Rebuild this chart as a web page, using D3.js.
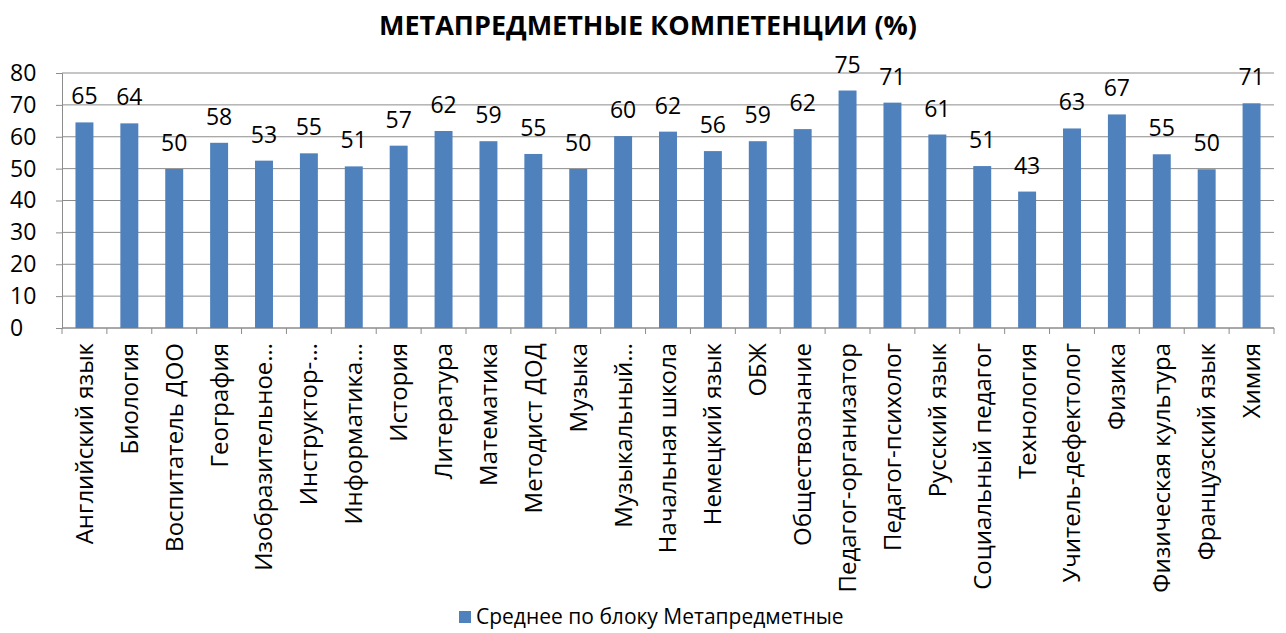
<!DOCTYPE html>
<html>
<head>
<meta charset="utf-8">
<script src="https://cdn.jsdelivr.net/npm/d3@7"></script>
<style>
  body { margin: 0; background: #fff; }
  text { font-family: "Open Sans", "Noto Sans", sans-serif; fill: #000; }
</style>
</head>
<body>
<div class="container"></div>
<script>
const categories = [
	"Английский язык", "Биология", "Воспитатель ДОО", "География", "Изобразительное…",
	"Инструктор-…", "Информатика…", "История", "Литература", "Математика",
	"Методист ДОД", "Музыка", "Музыкальный…", "Начальная школа", "Немецкий язык",
	"ОБЖ", "Обществознание", "Педагог-организатор", "Педагог-психолог", "Русский язык",
	"Социальный педагог", "Технология", "Учитель-дефектолог", "Физика", "Физическая культура",
	"Французский язык", "Химия"
];
const values = [
	64.5, 64.2, 49.9, 58.1, 52.5,
	54.8, 50.7, 57.2, 61.8, 58.6,
	54.6, 49.9, 60.2, 61.6, 55.5,
	58.6, 62.4, 74.5, 70.7, 60.7,
	50.8, 42.8, 62.6, 67.0, 54.5,
	49.8, 70.5
];
const yTicks = [0, 10, 20, 30, 40, 50, 60, 70, 80];
const title = "МЕТАПРЕДМЕТНЫЕ КОМПЕТЕНЦИИ (%)";
const seriesName = "Среднее по блоку Метапредметные";

const outerWidth = 1286, outerHeight = 633;
const margin = { top: 73, right: 12, bottom: 305, left: 62 };
const width = outerWidth - margin.left - margin.right;
const height = outerHeight - margin.top - margin.bottom;

const svg = d3.select(".container").append("svg")
	.attr("width", outerWidth)
	.attr("height", outerHeight);

svg.append("text")
	.attr("x", 648)
	.attr("y", 35)
	.attr("text-anchor", "middle")
	.style("font-size", "27px")
	.style("font-weight", "bold")
	.text(title);

const g = svg.append("g").attr("transform", `translate(${margin.left},${margin.top})`);

const x = d3.scaleBand().domain(categories).range([0, width]).paddingInner(0.6).paddingOuter(0.3);
const y = d3.scaleLinear().domain([0, 80]).range([height, 0]);

// gridlines
g.append("g")
	.selectAll("line")
	.data(yTicks).enter()
	.append("line")
		.attr("x1", 0)
		.attr("x2", width)
		.attr("y1", (d) => y(d))
		.attr("y2", (d) => y(d))
		.style("stroke", "#8c8c8c")
		.style("stroke-width", 1);

// y axis (labels left aligned like the original)
const yAxis = g.append("g")
	.call(d3.axisLeft(y).tickValues(yTicks).tickSize(6));
yAxis.select(".domain").style("stroke", "#8c8c8c");
yAxis.selectAll(".tick line").style("stroke", "#8c8c8c");
yAxis.selectAll(".tick text")
	.attr("x", 10 - margin.left)
	.attr("text-anchor", "start")
	.style("font-size", "23px")
	.style("font-family", "'Open Sans', sans-serif")
	.attr("fill", "#000");

// x axis ticks at category boundaries
const step = x.step();
const bounds = d3.range(categories.length + 1);
g.append("g")
	.selectAll("line")
	.data(bounds).enter()
	.append("line")
		.attr("x1", (d) => d * step)
		.attr("x2", (d) => d * step)
		.attr("y1", height)
		.attr("y2", height + 6)
		.style("stroke", "#8c8c8c");

g.append("line")
	.attr("x1", 0).attr("x2", width)
	.attr("y1", height).attr("y2", height)
	.style("stroke", "#8c8c8c");

// bars
g.selectAll(".bar")
	.data(values).enter()
	.append("rect")
		.attr("class", "bar")
		.attr("x", (d, i) => x(categories[i]))
		.attr("width", x.bandwidth())
		.attr("y", (d) => y(d))
		.attr("height", (d) => height - y(d))
		.style("fill", "#4F81BD");

// value labels
g.selectAll(".value")
	.data(values).enter()
	.append("text")
		.attr("class", "value")
		.attr("x", (d, i) => x(categories[i]) + x.bandwidth() / 2)
		.attr("y", (d) => y(d) - 18)
		.attr("text-anchor", "middle")
		.style("font-size", "23px")
		.text((d) => Math.round(d));

// category labels
g.selectAll(".cat")
	.data(categories).enter()
	.append("text")
		.attr("class", "cat")
		.attr("transform", (d) => `translate(${x(d) + x.bandwidth() / 2},${height + 15}) rotate(-90)`)
		.attr("text-anchor", "end")
		.attr("dy", "0.35em")
		.style("font-size", "24px")
		.text((d) => d);

// legend
const legend = svg.append("g").attr("transform", "translate(459,611)");
legend.append("rect")
	.attr("width", 12)
	.attr("height", 12)
	.style("fill", "#4F81BD");
legend.append("text")
	.attr("x", 17)
	.attr("y", 6)
	.attr("dy", "0.35em")
	.style("font-size", "21px")
	.text(seriesName);
</script>
</body>
</html>
